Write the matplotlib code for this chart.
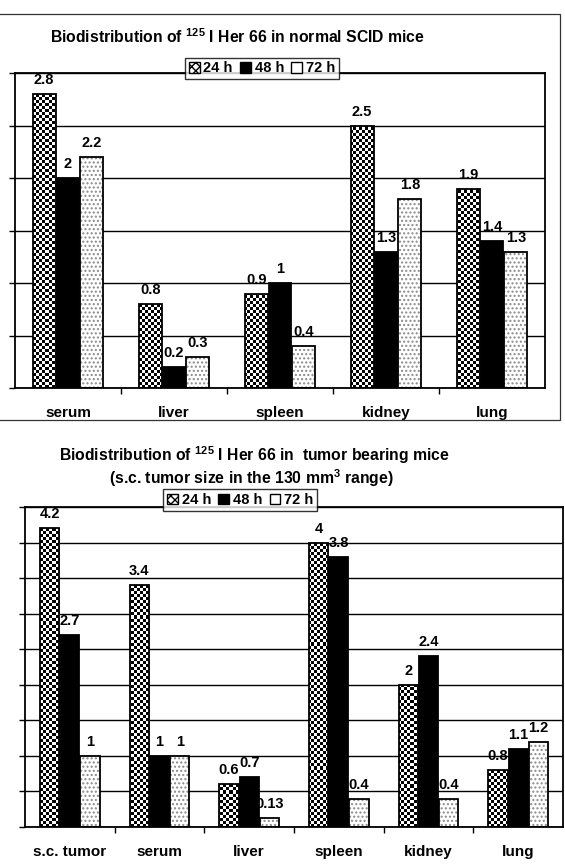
import numpy as np
import matplotlib
matplotlib.use("Agg")
import matplotlib.pyplot as plt
from matplotlib.patches import Patch, Rectangle

plt.rcParams["font.family"] = ["Liberation Sans", "DejaVu Sans"]
plt.rcParams["font.weight"] = "bold"
plt.rcParams["mathtext.fontset"] = "custom"
plt.rcParams["mathtext.rm"] = "Liberation Sans:bold"
plt.rcParams["mathtext.bf"] = "Liberation Sans:bold"
plt.rcParams["mathtext.default"] = "rm"

# ---- data ----
series = ["24 h", "48 h", "72 h"]

normal_organs = ["serum", "liver", "spleen", "kidney", "lung"]
normal_24h = [2.8, 0.8, 0.9, 2.5, 1.9]
normal_48h = [2.0, 0.2, 1.0, 1.3, 1.4]
normal_72h = [2.2, 0.3, 0.4, 1.8, 1.3]

tumor_organs = ["s.c. tumor", "serum", "liver", "spleen", "kidney", "lung"]
tumor_24h = [4.2, 3.4, 0.6, 4.0, 2.0, 0.8]
tumor_48h = [2.7, 1.0, 0.7, 3.8, 2.4, 1.1]
tumor_72h = [1.0, 1.0, 0.13, 0.4, 0.4, 1.2]

W, H = 565, 864
fig = plt.figure(figsize=(W / 100, H / 100), dpi=100)


def checker(ax, bars, ymax, n):
    # checkerboard texture clipped to the 24 h bars
    pos = ax.get_position()
    ncols = int(pos.width * W / 3)
    nrows = int(pos.height * H / 3)
    pat = np.add.outer(np.arange(nrows), np.arange(ncols)) % 2
    for b in bars:
        im = ax.imshow(pat, cmap="gray", vmin=0, vmax=1, extent=(-0.5, n - 0.5, 0, ymax),
                       aspect="auto", interpolation="nearest", zorder=2)
        im.set_clip_path(b)


def draw_chart(ax, organs, v24, v48, v72, ymax):
    n = len(organs)
    x = np.arange(n)
    off, bw = 0.225, 0.215
    b24 = ax.bar(x - off, v24, bw, facecolor="none", edgecolor="black", lw=1.3, zorder=3)
    b48 = ax.bar(x, v48, bw, facecolor="black", edgecolor="black", lw=1.3, zorder=3)
    ax.bar(x + off, v72, bw, facecolor="white", edgecolor="#8a8a8a", hatch="....", lw=0, zorder=2)
    b72 = ax.bar(x + off, v72, bw, facecolor="none", edgecolor="black", lw=1.3, zorder=3)
    checker(ax, b24, ymax, n)

    for bars, vals in [(b24, v24), (b48, v48), (b72, v72)]:
        for b, v in zip(bars, vals):
            ax.annotate(f"{v:g}", (b.get_x() + b.get_width() / 2, v), xytext=(0, 5),
                        textcoords="offset points", ha="center", va="bottom",
                        fontsize=10.5, fontweight="bold", zorder=4)

    ax.set_xlim(-0.5, n - 0.5)
    ax.set_ylim(0, ymax)
    ax.set_yticks(np.arange(0, ymax + 0.01, 0.5))
    ax.set_yticklabels([])
    ax.yaxis.grid(True, color="black", lw=1.0)
    ax.set_axisbelow(True)
    ax.set_xticks(x)
    ax.set_xticklabels(organs, fontsize=11, fontweight="bold")
    ax.set_xticks(np.arange(0.5, n - 0.5), minor=True)
    ax.tick_params(axis="x", which="major", length=0, pad=13)
    ax.tick_params(axis="x", which="minor", length=4, direction="out", width=1)
    ax.tick_params(axis="y", length=4, direction="out", width=1)
    for s in ax.spines.values():
        s.set_linewidth(1.3)

    handles = [Patch(facecolor="white", edgecolor="black", hatch="xxxx"),
               Patch(facecolor="black", edgecolor="black"),
               Patch(facecolor="white", edgecolor="black")]
    return handles


def add_legend(ax, handles, anchor):
    leg = ax.legend(handles, series, loc="center", bbox_to_anchor=anchor, ncol=3,
                    prop={"weight": "bold", "size": 10.5}, frameon=True, fancybox=False,
                    handlelength=0.75, handleheight=0.75, handletextpad=0.25,
                    columnspacing=0.5, borderpad=0.25, borderaxespad=0)
    leg.get_frame().set_edgecolor("black")
    leg.get_frame().set_linewidth(1.0)
    leg.set_zorder(5)


# top chart: normal SCID mice
ax1 = fig.add_axes([15 / W, 1 - 388 / H, 530 / W, 315 / H])
h = draw_chart(ax1, normal_organs, normal_24h, normal_48h, normal_72h, 3.0)
add_legend(ax1, h, (0.466, 1.015))
fig.text(0.42, 1 - 37 / H, "Biodistribution of $^{125}$ I Her 66 in normal SCID mice",
         ha="center", va="center", fontsize=11.3, fontweight="bold")

# bottom chart: tumor bearing mice
ax2 = fig.add_axes([25 / W, 1 - 827 / H, 538 / W, 320 / H])
h = draw_chart(ax2, tumor_organs, tumor_24h, tumor_48h, tumor_72h, 4.5)
add_legend(ax2, h, (0.40, 1.022))
fig.text(0.45, 1 - 455 / H, "Biodistribution of $^{125}$ I Her 66 in  tumor bearing mice",
         ha="center", va="center", fontsize=11.3, fontweight="bold")
fig.text(0.445, 1 - 478 / H, "(s.c. tumor size in the 130 mm$^{3}$ range)",
         ha="center", va="center", fontsize=11.3, fontweight="bold")

# chart-area frame around the top chart
fig.patches.append(Rectangle((-0.01, 1 - 420 / H), 560 / W + 0.01, 406 / H,
                             transform=fig.transFigure, fill=False,
                             edgecolor="#333333", lw=0.9))

fig.savefig("out.png", dpi=100)
